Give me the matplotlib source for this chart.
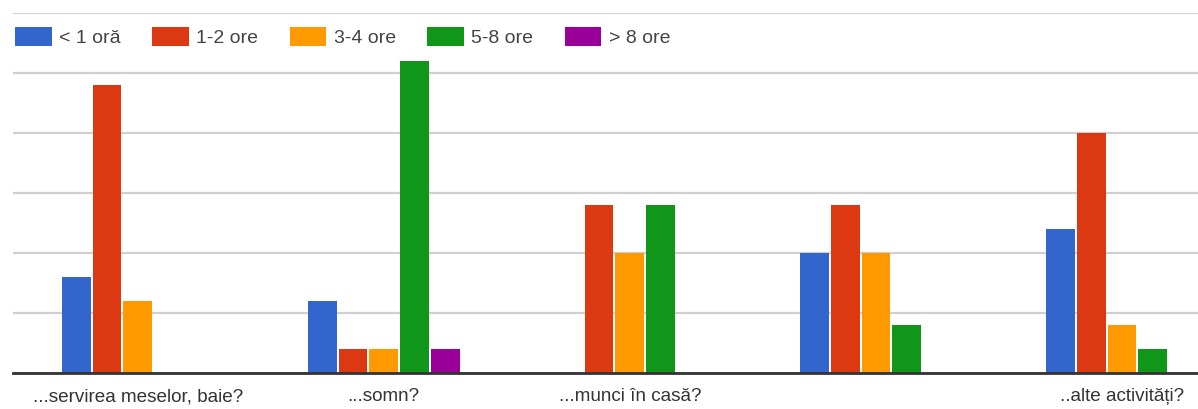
import matplotlib
matplotlib.use("Agg")
import matplotlib.pyplot as plt
import numpy as np

categories = ["...servirea meselor, baie?", "...somn?", "...munci în casă?", "", "..alte activități?"]
series_names = ["< 1 oră", "1-2 ore", "3-4 ore", "5-8 ore", "> 8 ore"]
sub_1h = [4, 3, 0, 5, 6]
h_1_2 = [12, 1, 7, 7, 10]
h_3_4 = [3, 1, 5, 5, 2]
h_5_8 = [0, 13, 7, 2, 1]
over_8h = [0, 1, 0, 0, 0]
colors = ["#3366cc", "#dc3912", "#ff9900", "#109618", "#990099"]
y_ticks = [0, 2.5, 5, 7.5, 10, 12.5, 15]

plt.rcParams["font.family"] = ["Liberation Sans", "DejaVu Sans"]

W, H = 1198, 409
fig = plt.figure(figsize=(W / 100, H / 100), dpi=100)
left_px, right_px, top_px, bottom_px = 13, 1198, 13, 373
ax = fig.add_axes([left_px / W, (H - bottom_px) / H,
                   (right_px - left_px) / W, (bottom_px - top_px) / H])

x = np.arange(len(categories))
step = 0.125
width = 0.117
all_series = [sub_1h, h_1_2, h_3_4, h_5_8, over_8h]
for k, (vals, name, c) in enumerate(zip(all_series, series_names, colors)):
    ax.bar(x + (k - 2) * step, vals, width=width, color=c, label=name, zorder=3)

ax.set_xlim(-0.507, 4.309)
ax.set_ylim(0, 15)
ax.set_yticks(y_ticks)
ax.yaxis.grid(True, color="#d0d0d0", linewidth=1.6, zorder=0)
ax.tick_params(axis="y", left=False, labelleft=False)
ax.set_xticks(x)
ax.set_xticklabels(categories, fontsize=13.6, color="#333333")
ax.tick_params(axis="x", length=0, pad=11)
for s in ["top", "right", "left"]:
    ax.spines[s].set_visible(False)
ax.spines["bottom"].set_color("#333333")
ax.spines["bottom"].set_linewidth(2)
ax.spines["bottom"].set_zorder(4)

leg = ax.legend(loc="upper left", bbox_to_anchor=(15 / W, (409 - 27) / H),
                bbox_transform=fig.transFigure, ncol=5, frameon=False,
                fontsize=14, handlelength=1.9, handleheight=1.1,
                handletextpad=0.38, columnspacing=1.6, borderaxespad=0,
                borderpad=0)
for t in leg.get_texts():
    t.set_color("#444444")

fig.savefig("out.png", dpi=100, facecolor="white")
